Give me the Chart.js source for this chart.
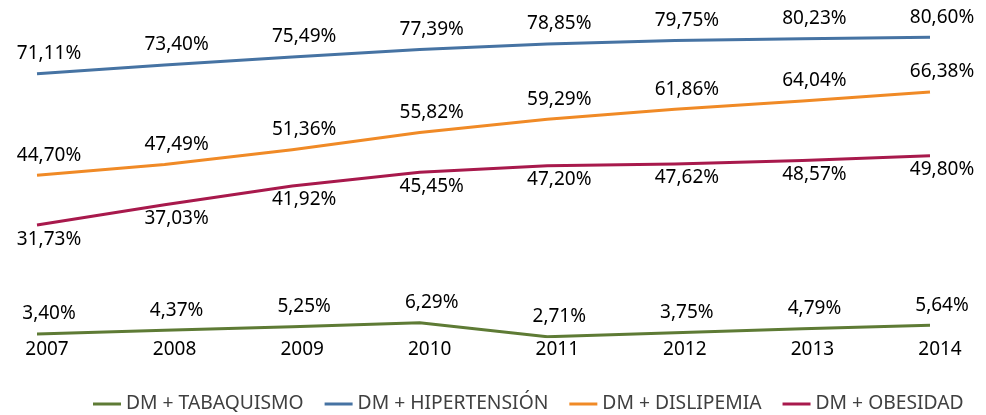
<!DOCTYPE html>
<html>
<head>
<meta charset="utf-8">
<script src="https://cdn.jsdelivr.net/npm/chart.js@4.4.1/dist/chart.umd.min.js"></script>
<style>
  html, body { margin: 0; padding: 0; background: #fff; }
  #wrap { width: 986px; height: 415px; }
</style>
</head>
<body>
<div id="wrap"><canvas id="lineChart" width="986" height="415"></canvas></div>
<script>
// Datos
var anos = ["2007", "2008", "2009", "2010", "2011", "2012", "2013", "2014"];
var tabaquismo = [3.40, 4.37, 5.25, 6.29, 2.71, 3.75, 4.79, 5.64];
var hipertension = [71.11, 73.40, 75.49, 77.39, 78.85, 79.75, 80.23, 80.60];
var dislipemia = [44.70, 47.49, 51.36, 55.82, 59.29, 61.86, 64.04, 66.38];
var obesidad = [31.73, 37.03, 41.92, 45.45, 47.20, 47.62, 48.57, 49.80];

var fuente = '"Noto Sans", "Open Sans", sans-serif';

function fmt(v) {
    return v.toFixed(2).replace('.', ',') + '%';
}

// etiquetas de datos (arriba / abajo)
var etiquetas = {
    id: 'etiquetas',
    afterDatasetsDraw: function (chart) {
        var ctx = chart.ctx;
        ctx.save();
        ctx.font = '19px ' + fuente;
        ctx.fillStyle = '#000';
        ctx.textAlign = 'center';
        ctx.textBaseline = 'middle';
        chart.data.datasets.forEach(function (ds, i) {
            var meta = chart.getDatasetMeta(i);
            meta.data.forEach(function (pt, j) {
                var txt = fmt(ds.data[j]);
                var w = ctx.measureText(txt).width;
                var x = pt.x + 12;
                if (x + w / 2 > 978) x = 978 - w / 2;
                var y = ds.abajo ? pt.y + 14 : pt.y - 20;
                ctx.fillText(txt, x, y);
            });
        });
        ctx.restore();
    }
};

// leyenda
var leyenda = {
    id: 'leyenda',
    afterDraw: function (chart) {
        var ctx = chart.ctx;
        ctx.save();
        ctx.font = '19.3px ' + fuente;
        ctx.textBaseline = 'middle';
        ctx.textAlign = 'left';
        var x = 93;
        var y = 404;
        chart.data.datasets.forEach(function (ds) {
            ctx.strokeStyle = ds.borderColor;
            ctx.lineWidth = 3;
            ctx.beginPath();
            ctx.moveTo(x, y);
            ctx.lineTo(x + 28, y);
            ctx.stroke();
            x += 33;
            ctx.fillStyle = '#404040';
            ctx.fillText(ds.label, x, y);
            x += ctx.measureText(ds.label).width + 21;
        });
        ctx.restore();
    }
};

var ctxL = document.getElementById("lineChart").getContext('2d');
var myLineChart = new Chart(ctxL, {
    type: 'line',
    data: {
        labels: anos,
        datasets: [{
            label: "DM + TABAQUISMO",
            data: tabaquismo,
            borderColor: '#5E7B35',
            borderWidth: 3,
            abajo: false
        },
        {
            label: "DM + HIPERTENSIÓN",
            data: hipertension,
            borderColor: '#4673A3',
            borderWidth: 3,
            abajo: false
        },
        {
            label: "DM + DISLIPEMIA",
            data: dislipemia,
            borderColor: '#F08A26',
            borderWidth: 3,
            abajo: false
        },
        {
            label: "DM + OBESIDAD",
            data: obesidad,
            borderColor: '#A8194C',
            borderWidth: 3,
            abajo: true
        }]
    },
    options: {
        responsive: false,
        animation: false,
        devicePixelRatio: 1,
        layout: {
            padding: { left: 37, right: 56, top: 0, bottom: 54 }
        },
        elements: {
            point: { radius: 0, hoverRadius: 0 },
            line: { tension: 0, borderCapStyle: 'butt' }
        },
        plugins: {
            legend: { display: false },
            tooltip: { enabled: false }
        },
        scales: {
            x: {
                offset: false,
                grid: { display: false, drawTicks: false },
                border: { display: false },
                ticks: {
                    color: '#000',
                    padding: 0,
                    labelOffset: 10,
                    maxRotation: 0,
                    autoSkip: false,
                    font: { family: fuente, size: 19 }
                }
            },
            y: {
                display: false,
                min: 2.3,
                max: 90.3
            }
        }
    },
    plugins: [etiquetas, leyenda]
});
</script>
</body>
</html>
